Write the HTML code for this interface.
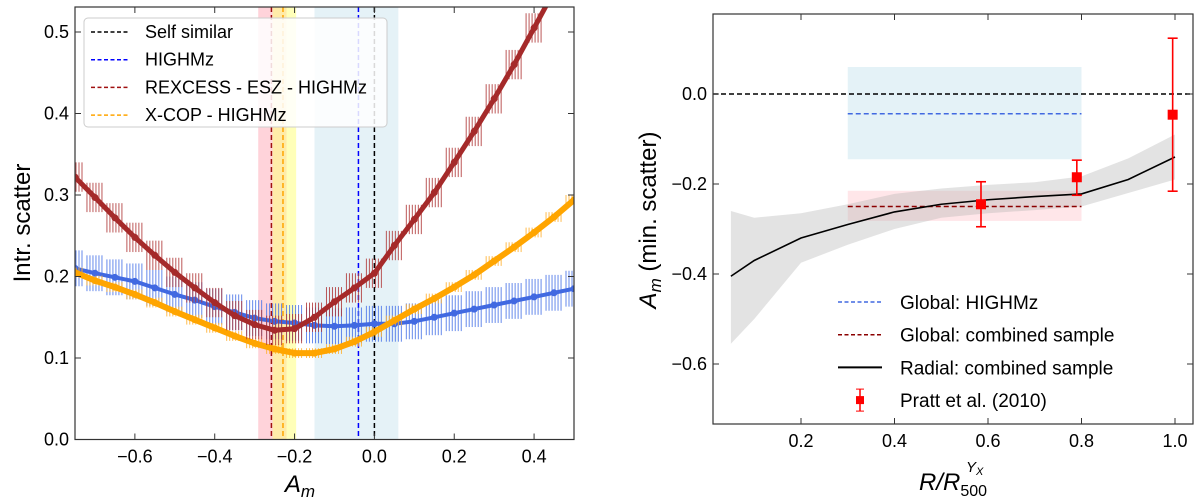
<!DOCTYPE html>
<html><head><meta charset="utf-8"><style>
body{margin:0;background:#fff;}
svg{display:block;font-family:"Liberation Sans","DejaVu Sans",sans-serif;}
</style></head><body>
<svg id="chart" width="1200" height="502" viewBox="0 0 1200 502" xmlns="http://www.w3.org/2000/svg">
<g id="left"></g>
<g id="right"></g>
</svg>
<script>
// ---- Left panel data ----
const amGrid = [-0.75,-0.7,-0.65,-0.6,-0.55,-0.5,-0.45,-0.4,-0.35,-0.3,-0.25,-0.2,-0.15,-0.1,-0.05,0,0.05,0.1,0.15,0.2,0.25,0.3,0.35,0.4,0.45,0.5];
const rexcessVals = [0.322,0.297,0.272,0.248,0.226,0.205,0.186,0.168,0.152,0.141,0.134,0.136,0.150,0.169,0.186,0.204,0.238,0.27,0.303,0.34,0.378,0.418,0.46,0.505,0.55,0.6];
const highmzVals = [0.21,0.204,0.199,0.194,0.186,0.178,0.171,0.163,0.156,0.149,0.145,0.143,0.140,0.139,0.140,0.142,0.142,0.145,0.15,0.155,0.16,0.165,0.17,0.175,0.18,0.185];
const xcopVals = [0.205,0.195,0.187,0.178,0.168,0.157,0.147,0.137,0.127,0.118,0.111,0.106,0.106,0.111,0.12,0.132,0.146,0.16,0.173,0.187,0.202,0.219,0.236,0.254,0.273,0.294];
const rexcessErr = 0.018, highmzErr = 0.022, xcopErr = 0.006;
const leftXTicks = [-0.6,-0.4,-0.2,0.0,0.2,0.4];
const leftYTicks = [0.0,0.1,0.2,0.3,0.4,0.5];
const vlines = [0.0,-0.04,-0.258,-0.229];
const bands = [[-0.15,0.06],[-0.291,-0.22],[-0.255,-0.196]];
// ---- Right panel data ----
const radX = [0.05,0.1,0.2,0.3,0.4,0.5,0.6,0.7,0.8,0.9,1.0];
const radY = [-0.405,-0.37,-0.32,-0.29,-0.262,-0.245,-0.235,-0.228,-0.222,-0.19,-0.14];
const radLo = [-0.555,-0.50,-0.375,-0.335,-0.30,-0.275,-0.265,-0.258,-0.25,-0.22,-0.19];
const radHi = [-0.26,-0.275,-0.265,-0.245,-0.222,-0.21,-0.202,-0.196,-0.183,-0.143,-0.09];
const prattX = [0.585,0.79,0.995];
const prattY = [-0.245,-0.185,-0.046];
const prattUp = [0.05,0.038,0.17];
const prattDn = [0.05,0.04,0.17];
const globalHighmz = [-0.044,-0.145,0.06];
const globalComb = [-0.25,-0.282,-0.215];
const rightXTicks = [0.2,0.4,0.6,0.8,1.0];
const rightYTicks = [0.0,-0.2,-0.4,-0.6];

const NS="http://www.w3.org/2000/svg";
function mk(parent,tag,attrs,text){const e=document.createElementNS(NS,tag);for(const k in attrs)e.setAttribute(k,attrs[k]);if(text!==undefined)e.textContent=text;parent.appendChild(e);return e;}
function fmt(v){return (v<0?"\u2212":"")+Math.abs(v).toFixed(1);}

const L=document.getElementById('left');
const lx0=75,lx1=574,ly0=439.5,ly1=7;
const lxs=v=>lx0+(v+0.75)/1.25*(lx1-lx0);
const lys=v=>ly0-v*815;
bands.forEach((b,i)=>{const col=['#add8e6','#ffb6c1','#ffff80'][i];
 const r=mk(L,'rect',{x:lxs(b[0]),y:ly1,width:lxs(b[1])-lxs(b[0]),height:ly0-ly1,fill:col,'fill-opacity':[0.32,0.6,0.55][i]});
 
 });
vlines.forEach((v,i)=>{const col=['#000','#0000ff','#a01010','#ffa500'][i];
 const l=mk(L,'line',{x1:lxs(v),x2:lxs(v),y1:ly1,y2:ly0,stroke:col,'stroke-width':1.5,'stroke-dasharray':'5,3'});
 
 });
const barOffsets=[-8,-5,-2,1,4,7];
function series(g,vals,err,col,ecol,name,lw){
 let d='';vals.forEach((v,i)=>{d+=(i?'L':'M')+lxs(amGrid[i]).toFixed(1)+','+lys(v).toFixed(1);});
 const cp=mk(g,'clipPath',{id:'clip'+name});mk(cp,'rect',{x:lx0,y:ly1,width:lx1-lx0,height:ly0-ly1});
 const sg=mk(g,'g',{'clip-path':'url(#clip'+name+')'});
 
 
 vals.forEach((v,i)=>{const x=lxs(amGrid[i]);
  const eb=mk(sg,'g',{});
  
  
  barOffsets.forEach(o=>mk(eb,'line',{x1:x+o,x2:x+o,y1:lys(v+err),y2:lys(v-err),stroke:ecol,'stroke-width':1,'stroke-opacity':0.85}));});
 mk(sg,'path',{d:d,fill:'none',stroke:col,'stroke-width':lw,'stroke-linejoin':'round'});
 vals.forEach((v,i)=>{const c=mk(sg,'circle',{cx:lxs(amGrid[i]),cy:lys(v),r:3.5,fill:col});
  
  });
}
series(L,highmzVals,highmzErr,'#4169e1','#4a74e8','highmz',4);
series(L,xcopVals,xcopErr,'#ffa500','#ffb030','xcop',6);
series(L,rexcessVals,rexcessErr,'#a52a2a','#b03a3a','rexcess',5);
const lb=mk(L,'rect',{x:lx0,y:ly1,width:lx1-lx0,height:ly0-ly1,fill:'none',stroke:'#333','stroke-width':1.2});


leftXTicks.forEach(v=>{const x=lxs(v);mk(L,'line',{x1:x,x2:x,y1:ly0,y2:ly0-6,stroke:'#333'});mk(L,'line',{x1:x,x2:x,y1:ly1,y2:ly1+6,stroke:'#333'});
 const t=mk(L,'text',{x:x,y:ly0+23,'font-size':18,'text-anchor':'middle'},fmt(v));
 
 });
leftYTicks.forEach(v=>{const y=lys(v);mk(L,'line',{x1:lx0,x2:lx0+6,y1:y,y2:y,stroke:'#333'});mk(L,'line',{x1:lx1,x2:lx1-6,y1:y,y2:y,stroke:'#333'});
 const t=mk(L,'text',{x:lx0-6,y:y+6,'font-size':18,'text-anchor':'end'},v.toFixed(1));
 
 });
</script>
<script>
(function(){
const L=document.getElementById('left');
const NS="http://www.w3.org/2000/svg";
function mk(p,tag,a,t){const e=document.createElementNS(NS,tag);for(const k in a)e.setAttribute(k,a[k]);if(t!==undefined)e.textContent=t;p.appendChild(e);return e;}
const lg=mk(L,'g',{});


mk(lg,'rect',{x:84,y:18,width:303,height:109,rx:4,fill:'#fff','fill-opacity':0.85,stroke:'#ccc'});
const items=[['Self similar','#000'],['HIGHMz','#0000ff'],['REXCESS - ESZ - HIGHMz','#a01010'],['X-COP - HIGHMz','#ffa500']];
items.forEach((it,i)=>{const y=32+i*27.7;
 mk(lg,'line',{x1:91,x2:128,y1:y,y2:y,stroke:it[1],'stroke-width':1.5,'stroke-dasharray':'4,2.5'});
 const t=mk(lg,'text',{x:145,y:y+6,'font-size':18},it[0]);
 
 });
const yl=mk(L,'text',{x:0,y:0,'font-size':24,'text-anchor':'middle',transform:'translate(30,223) rotate(-90)'},'Intr. scatter');


const xl=mk(L,'text',{x:300,y:492,'font-size':24,'text-anchor':'middle','font-style':'italic'});


mk(xl,'tspan',{},'A');mk(xl,'tspan',{'font-size':17,dy:5},'m');
})();
</script>
<script>
(function(){
const NS="http://www.w3.org/2000/svg";
function mk(p,tag,a,t){const e=document.createElementNS(NS,tag);for(const k in a)e.setAttribute(k,a[k]);if(t!==undefined)e.textContent=t;p.appendChild(e);return e;}
function fmt(v){return (v<0?"\u2212":"")+Math.abs(v).toFixed(1);}
const R=document.getElementById('right');
const rx0=713,rx1=1193,ry0=424,ry1=14;
const rxs=v=>801+(v-0.2)/0.2*93.5;
const rys=v=>94-v*450;
const hb=mk(R,'rect',{x:rxs(0.3),y:rys(globalHighmz[2]),width:rxs(0.8)-rxs(0.3),height:rys(globalHighmz[1])-rys(globalHighmz[2]),fill:'#add8e6','fill-opacity':0.33});


const cb=mk(R,'rect',{x:rxs(0.3),y:rys(globalComb[2]),width:rxs(0.8)-rxs(0.3),height:rys(globalComb[1])-rys(globalComb[2]),fill:'#ffb6c1','fill-opacity':0.35});


let d='';radX.forEach((x,i)=>{d+=(i?'L':'M')+rxs(x)+','+rys(radHi[i]);});
for(let i=radX.length-1;i>=0;i--)d+='L'+rxs(radX[i])+','+rys(radLo[i]);
const gb=mk(R,'path',{d:d+'Z',fill:'#b0b0b0','fill-opacity':0.35,stroke:'none'});


const z=mk(R,'line',{x1:rx0,x2:rx1,y1:rys(0),y2:rys(0),stroke:'#000','stroke-width':1.5,'stroke-dasharray':'5,3'});


const hl=mk(R,'line',{x1:rxs(0.3),x2:rxs(0.8),y1:rys(globalHighmz[0]),y2:rys(globalHighmz[0]),stroke:'#4169e1','stroke-width':1.5,'stroke-dasharray':'5,3'});


const cl=mk(R,'line',{x1:rxs(0.3),x2:rxs(0.8),y1:rys(globalComb[0]),y2:rys(globalComb[0]),stroke:'#8b0000','stroke-width':1.5,'stroke-dasharray':'5,3'});


let p='';radX.forEach((x,i)=>{p+=(i?'L':'M')+rxs(x)+','+rys(radY[i]);});
const rl=mk(R,'path',{d:p,fill:'none',stroke:'#000','stroke-width':1.6});


prattX.forEach((x,i)=>{const g=mk(R,'g',{});
 
 
 const X=rxs(x),yt=rys(prattY[i]+prattUp[i]),yb=rys(prattY[i]-prattDn[i]);
 mk(g,'line',{x1:X,x2:X,y1:yt,y2:yb,stroke:'red','stroke-width':1.6});
 mk(g,'line',{x1:X-5,x2:X+5,y1:yt,y2:yt,stroke:'red','stroke-width':1.6});
 mk(g,'line',{x1:X-5,x2:X+5,y1:yb,y2:yb,stroke:'red','stroke-width':1.6});
 mk(g,'rect',{x:X-5,y:rys(prattY[i])-5,width:10,height:10,fill:'red'});});
const fr=mk(R,'rect',{x:rx0,y:ry1,width:rx1-rx0,height:ry0-ry1,fill:'none',stroke:'#333','stroke-width':1.2});


rightXTicks.forEach(v=>{const x=rxs(v);mk(R,'line',{x1:x,x2:x,y1:ry0,y2:ry0-6,stroke:'#333'});mk(R,'line',{x1:x,x2:x,y1:ry1,y2:ry1+6,stroke:'#333'});
 const t=mk(R,'text',{x:x,y:ry0+23,'font-size':18,'text-anchor':'middle'},v.toFixed(1));
 
 });
rightYTicks.forEach(v=>{const y=rys(v);mk(R,'line',{x1:rx0,x2:rx0+6,y1:y,y2:y,stroke:'#333'});mk(R,'line',{x1:rx1,x2:rx1-6,y1:y,y2:y,stroke:'#333'});
 const t=mk(R,'text',{x:rx0-6,y:y+6,'font-size':18,'text-anchor':'end'},fmt(v));
 
 });
const lg=mk(R,'g',{});


const items=[['Global: HIGHMz','#4169e1','dash'],['Global: combined sample','#8b0000','dash'],['Radial: combined sample','#000','solid'],['Pratt et al. (2010)','red','pt']];
items.forEach((it,i)=>{const y=302+i*32.7;
 if(it[2]==='pt'){mk(lg,'line',{x1:860,x2:860,y1:y-11,y2:y+11,stroke:'red','stroke-width':1.5});mk(lg,'line',{x1:856,x2:864,y1:y-11,y2:y-11,stroke:'red'});mk(lg,'line',{x1:856,x2:864,y1:y+11,y2:y+11,stroke:'red'});mk(lg,'rect',{x:856,y:y-4,width:8,height:8,fill:'red'});}
 else mk(lg,'line',{x1:838,x2:882,y1:y,y2:y,stroke:it[1],'stroke-width':it[2]==='solid'?2:1.5,'stroke-dasharray':it[2]==='dash'?'4,2.5':'none'});
 const t=mk(lg,'text',{x:900,y:y+7,'font-size':19},it[0]);
 
 });
const yl=mk(R,'text',{x:0,y:0,'font-size':24,'text-anchor':'middle',transform:'translate(656,220) rotate(-90)'});


mk(yl,'tspan',{'font-style':'italic'},'A');mk(yl,'tspan',{'font-size':17,dy:5,'font-style':'italic'},'m');mk(yl,'tspan',{dy:-5},' (min. scatter)');
const xl=mk(R,'text',{x:953,y:490,'font-size':24,'text-anchor':'middle','font-style':'italic'});


mk(xl,'tspan',{},'R/R');mk(xl,'tspan',{'font-size':16,dy:6,'font-style':'normal'},'500');
const sup=mk(R,'text',{x:966,y:472,'font-size':15,'font-style':'italic'});


mk(sup,'tspan',{},'Y');mk(sup,'tspan',{'font-size':11,dy:3},'X');
})();
</script>
</body></html>
